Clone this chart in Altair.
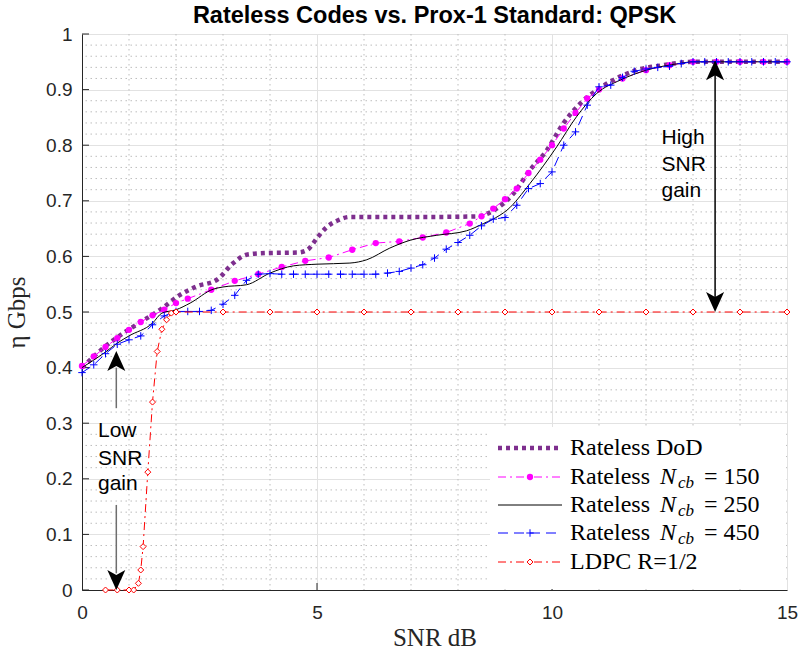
import altair as alt
import pandas as pd

# ---------------- text ----------------
TITLE = "Rateless Codes vs. Prox-1 Standard: QPSK"
X_LABEL = "SNR dB"
Y_LABEL = "η Gbps"

# ---------------- data ----------------
dod_x = [0, 0.45, 0.88, 1.27, 1.66, 2.09, 2.44, 2.87, 3.22, 3.5, 3.9, 4.6, 4.8, 5.0, 5.2, 5.45, 5.7,
         6.5, 7.5, 8.4, 8.82, 9.18, 9.53, 9.89, 10.24, 10.6, 10.95, 11.3, 11.8, 12.37, 13.0, 14.0, 15.0]
dod_y = [0.400, 0.435, 0.462, 0.483, 0.504, 0.531, 0.546, 0.558, 0.588, 0.603, 0.606, 0.607, 0.612,
         0.633, 0.652, 0.665, 0.671, 0.671, 0.671, 0.672, 0.686, 0.713, 0.755, 0.791, 0.839, 0.875,
         0.899, 0.917, 0.935, 0.944, 0.950, 0.950, 0.950]

n150_x = [0, 0.25, 0.5, 0.75, 1, 1.25, 1.5, 1.75, 2, 2.25, 2.75, 3.25, 3.75, 4.25, 4.75, 5.25, 5.75,
          6.25, 6.75, 7.25, 7.75, 8.25, 8.5, 8.75, 9, 9.25, 9.5, 9.75, 10, 10.25, 10.5, 10.75, 11,
          11.5, 12, 12.5, 13, 13.5, 14, 14.5, 15]
n150_y = [0.403, 0.420, 0.437, 0.453, 0.468, 0.482, 0.494, 0.504, 0.516, 0.524, 0.540, 0.556, 0.568,
          0.581, 0.592, 0.598, 0.612, 0.624, 0.627, 0.634, 0.643, 0.659, 0.672, 0.686, 0.703, 0.722,
          0.750, 0.774, 0.800, 0.830, 0.858, 0.884, 0.900, 0.920, 0.935, 0.944, 0.950, 0.950, 0.950,
          0.950, 0.950]

n250_x = [0, 0.5, 0.75, 1.0, 1.5, 1.7, 2.0, 2.3, 2.79, 3.0, 3.5, 4.0, 4.5, 5.0, 5.7, 6.06, 6.55, 6.98,
          7.55, 8.18, 8.54, 8.89, 9.04, 9.53, 10.1, 10.52, 10.95, 11.45, 12.01, 12.72, 13.0, 15.0]
n250_y = [0.400, 0.428, 0.444, 0.457, 0.480, 0.498, 0.504, 0.516, 0.541, 0.545, 0.549, 0.570, 0.583,
          0.586, 0.588, 0.594, 0.615, 0.629, 0.638, 0.646, 0.659, 0.674, 0.683, 0.731, 0.797, 0.851,
          0.893, 0.917, 0.935, 0.947, 0.950, 0.950]

n450_x = [0, 0.25, 0.5, 0.75, 1.0, 1.25, 1.5, 1.75, 2.0, 2.25, 2.5, 2.75, 3.0, 3.25, 3.5, 3.75, 4.0,
          4.25, 4.5, 4.75, 5.0, 5.25, 5.5, 5.75, 6.0, 6.25, 6.5, 6.75, 7.0, 7.25, 7.5, 7.75, 8.0,
          8.25, 8.5, 8.75, 9.0, 9.25, 9.5, 9.75, 10.0, 10.25, 10.5, 10.75, 11.0, 11.25, 11.5, 11.75,
          12.0, 12.25, 12.5, 12.75, 13.0, 13.25, 13.5, 13.75, 14.0, 14.25, 14.5, 14.75, 15.0]
n450_y = [0.391, 0.405, 0.425, 0.442, 0.450, 0.457, 0.477, 0.493, 0.501, 0.501, 0.501, 0.503, 0.514,
          0.530, 0.557, 0.568, 0.569, 0.568, 0.568, 0.568, 0.568, 0.568, 0.568, 0.568, 0.568, 0.568,
          0.570, 0.573, 0.579, 0.585, 0.597, 0.613, 0.625, 0.638, 0.655, 0.667, 0.670, 0.692, 0.722,
          0.731, 0.752, 0.800, 0.824, 0.872, 0.905, 0.908, 0.922, 0.933, 0.937, 0.940, 0.942, 0.947,
          0.950, 0.950, 0.950, 0.950, 0.950, 0.950, 0.950, 0.950, 0.950]

ldpc_x = [0.5, 0.75, 1.0, 1.1, 1.2, 1.25, 1.3, 1.4, 1.5, 1.6, 1.7, 1.8, 1.9, 2.0,
          3, 4, 5, 6, 7, 8, 9, 10, 11, 12, 13, 14, 15]
ldpc_y = [0.0, 0.0, 0.0, 0.0, 0.012, 0.036, 0.078, 0.212, 0.338, 0.429, 0.469, 0.486, 0.498, 0.5,
          0.5, 0.5, 0.5, 0.5, 0.5, 0.5, 0.5, 0.5, 0.5, 0.5, 0.5, 0.5, 0.5]

x_major = [0, 5, 10, 15]
y_major = [0, 0.1, 0.2, 0.3, 0.4, 0.5, 0.6, 0.7, 0.8, 0.9, 1]
x_minor = [1, 2, 3, 4, 6, 7, 8, 9, 11, 12, 13, 14]
y_minor = [round(0.02 * i, 2) for i in range(1, 50) if i % 5 != 0]

# annotations
ann_text = ["High", "SNR", "gain", "Low", "SNR", "gain"]
ann_x = [12.33, 12.33, 12.33, 0.34, 0.34, 0.34]
ann_y = [0.803, 0.754, 0.707, 0.276, 0.225, 0.180]

# arrows: x, shaft from y to y2, tip position and direction
arrow_x = [13.47, 0.73, 0.73]
arrow_y = [0.52, 0.327, 0.153]
arrow_y2 = [0.93, 0.40, 0.03]
arrow_color = ["#000000", "#6e6e6e", "#6e6e6e"]
head_x = [13.47, 13.47, 0.73, 0.73]
head_y = [0.953, 0.5, 0.43, 0.0]
head_dir = ["up", "down", "up", "down"]

# legend
legend_prefix = ["Rateless DoD", "Rateless", "Rateless", "Rateless", "LDPC R=1/2"]
legend_ncb = ["", "150", "250", "450", ""]

# ---------------- styling ----------------
W, H = 705, 556
AX = "#262626"
PURPLE, MAGENTA, BLUE, RED = "#7e2f8e", "#ff00ff", "#0000ff", "#ff0000"
PLUS = "M-1,0L1,0M0,-1L0,1"
UP = "M0,0L0.72,1.6L0,1.2L-0.72,1.6Z"
DOWN = "M0,0L0.72,-1.6L0,-1.2L-0.72,-1.6Z"
SERIF = "Liberation Serif"
SANS = "Liberation Sans"

xscale = alt.Scale(domain=[0, 15], nice=False, zero=False)
yscale = alt.Scale(domain=[0, 1], nice=False, zero=False)
xaxis = alt.Axis(values=x_major, grid=True, gridColor="#e2e2e2", gridWidth=1, ticks=False, tickSize=0,
                 domainColor=AX, domainWidth=1, labelFont=SANS, labelFontSize=19, labelColor=AX,
                 labelPadding=13, labelFlush=False, labelOverlap=False, titleFont=SERIF,
                 titleFontSize=25, titleFontWeight="normal", titleColor=AX, titlePadding=3)
yaxis = alt.Axis(values=y_major, format="~g", grid=True, gridColor="#e2e2e2", gridWidth=1, ticks=False,
                 tickSize=0, domainColor=AX, domainWidth=1, labelFont=SANS, labelFontSize=19,
                 labelColor=AX, labelPadding=10, labelFlush=False, labelOverlap=False, titleFont=SERIF,
                 titleFontSize=25, titleFontWeight="normal", titleColor=AX, titlePadding=16)


def X(f="x"):
    return alt.X(f"{f}:Q", scale=xscale, axis=xaxis, title=X_LABEL)


def Y(f="y"):
    return alt.Y(f"{f}:Q", scale=yscale, axis=yaxis, title=Y_LABEL)


layers = []

# minor grid (dotted)
layers.append(alt.Chart(pd.DataFrame({"v": x_minor})).mark_rule(
    color="#bdbdbd", strokeWidth=1, strokeDash=[1.5, 3.5]).encode(x=X("v")))
layers.append(alt.Chart(pd.DataFrame({"v": y_minor})).mark_rule(
    color="#bdbdbd", strokeWidth=1, strokeDash=[1.5, 3.5]).encode(y=Y("v")))

# inward ticks
layers.append(alt.Chart(pd.DataFrame({"v": y_major})).mark_rule(color=AX, strokeWidth=1).encode(
    y=Y("v"), x=alt.value(0), x2=alt.value(7)))
layers.append(alt.Chart(pd.DataFrame({"v": x_major[1:-1]})).mark_rule(color=AX, strokeWidth=1).encode(
    x=X("v"), y=alt.value(H), y2=alt.value(H - 7)))

# series
df_dod = pd.DataFrame({"x": dod_x, "y": dod_y})
df150 = pd.DataFrame({"x": n150_x, "y": n150_y})
df250 = pd.DataFrame({"x": n250_x, "y": n250_y})
df450 = pd.DataFrame({"x": n450_x, "y": n450_y})
dfl = pd.DataFrame({"x": ldpc_x, "y": ldpc_y})

layers.append(alt.Chart(df_dod).mark_line(color=PURPLE, strokeWidth=4.5, strokeDash=[4, 4],
                                          interpolate="monotone").encode(x=X(), y=Y()))
layers.append(alt.Chart(df150).mark_line(color=MAGENTA, strokeWidth=1, strokeDash=[8, 4, 2, 4]).encode(
    x=X(), y=Y()))
layers.append(alt.Chart(df150).mark_point(shape="circle", filled=True, size=40, color=MAGENTA,
                                          opacity=1).encode(x=X(), y=Y()))
layers.append(alt.Chart(df250).mark_line(color="#000000", strokeWidth=1, interpolate="monotone").encode(
    x=X(), y=Y()))
layers.append(alt.Chart(df450).mark_line(color=BLUE, strokeWidth=1, strokeDash=[10, 6]).encode(
    x=X(), y=Y()))
layers.append(alt.Chart(df450).mark_point(shape=PLUS, filled=False, size=56, color=BLUE, strokeWidth=1,
                                          opacity=1).encode(x=X(), y=Y()))
layers.append(alt.Chart(dfl).mark_line(color=RED, strokeWidth=1, strokeDash=[8, 4, 2, 4]).encode(
    x=X(), y=Y()))
layers.append(alt.Chart(dfl).mark_point(shape="diamond", filled=True, fill="white", size=36, stroke=RED,
                                        strokeWidth=1, opacity=1).encode(x=X(), y=Y()))

# arrows
df_arrow = pd.DataFrame({"x": arrow_x, "y": arrow_y, "y2": arrow_y2, "c": arrow_color})
layers.append(alt.Chart(df_arrow).mark_rule(strokeWidth=1.5).encode(
    x=X(), y=Y(), y2="y2:Q", color=alt.Color("c:N", scale=None)))
df_head = pd.DataFrame({"x": head_x, "y": head_y, "d": head_dir})
layers.append(alt.Chart(df_head).transform_filter(alt.datum.d == "up").mark_point(
    shape=UP, filled=True, color="#000000", size=625, opacity=1).encode(x=X(), y=Y()))
layers.append(alt.Chart(df_head).transform_filter(alt.datum.d == "down").mark_point(
    shape=DOWN, filled=True, color="#000000", size=625, opacity=1).encode(x=X(), y=Y()))

# annotation text
df_ann = pd.DataFrame({"x": ann_x, "y": ann_y, "t": ann_text})
layers.append(alt.Chart(df_ann).mark_text(font=SANS, fontSize=21, align="left", baseline="alphabetic",
                                          color="#000000").encode(x=X(), y=Y(), text="t:N"))

# ---------------- legend (drawn inside the plot) ----------------
LX0, LX1 = 408, 704
LY0, LY1 = 393, 555
rows_y = [414, 443, 471, 499, 528]
sx0, sx1, smid = 416, 480, 448
tx = 488

layers.append(alt.Chart(pd.DataFrame({"a": [0]})).mark_rect(fill="white").encode(
    x=alt.value(LX0), x2=alt.value(LX1), y=alt.value(LY0), y2=alt.value(LY1)))

styles = [
    dict(color=PURPLE, strokeWidth=4.5, strokeDash=[4, 4]),
    dict(color=MAGENTA, strokeWidth=1, strokeDash=[8, 4, 2, 4]),
    dict(color="#000000", strokeWidth=1),
    dict(color=BLUE, strokeWidth=1, strokeDash=[10, 6]),
    dict(color=RED, strokeWidth=1, strokeDash=[8, 4, 2, 4]),
]
markers = [
    None,
    dict(shape="circle", filled=True, size=40, color=MAGENTA, opacity=1),
    None,
    dict(shape=PLUS, filled=False, size=56, color=BLUE, strokeWidth=1, opacity=1),
    dict(shape="diamond", filled=True, fill="white", size=36, stroke=RED, strokeWidth=1, opacity=1),
]
one = pd.DataFrame({"a": [0]})
for i, ry in enumerate(rows_y):
    layers.append(alt.Chart(one).mark_rule(**styles[i]).encode(
        x=alt.value(sx0), x2=alt.value(sx1), y=alt.value(ry)))
    if markers[i]:
        layers.append(alt.Chart(one).mark_point(**markers[i]).encode(x=alt.value(smid), y=alt.value(ry)))
    layers.append(alt.Chart(pd.DataFrame({"t": [legend_prefix[i]]})).mark_text(
        font=SERIF, fontSize=24, align="left", baseline="middle", color="#000000").encode(
        x=alt.value(tx), y=alt.value(ry), text="t:N"))
    if legend_ncb[i]:
        layers.append(alt.Chart(pd.DataFrame({"t": ["N"]})).mark_text(
            font=SERIF, fontSize=24, fontStyle="italic", align="left", baseline="middle",
            color="#000000").encode(x=alt.value(578), y=alt.value(ry), text="t:N"))
        layers.append(alt.Chart(pd.DataFrame({"t": ["cb"]})).mark_text(
            font=SERIF, fontSize=17, fontStyle="italic", align="left", baseline="middle",
            color="#000000").encode(x=alt.value(596), y=alt.value(ry + 6), text="t:N"))
        layers.append(alt.Chart(pd.DataFrame({"t": ["= " + legend_ncb[i]]})).mark_text(
            font=SERIF, fontSize=24, align="left", baseline="middle", color="#000000").encode(
            x=alt.value(622), y=alt.value(ry), text="t:N"))

# chart title drawn as text above the plot area
layers.append(alt.Chart(pd.DataFrame({"t": [TITLE]})).mark_text(
    font=SANS, fontSize=23.5, fontWeight="bold", align="center", baseline="alphabetic",
    color="#000000").encode(x=alt.value(W / 2), y=alt.value(-11), text="t:N"))

chart = alt.layer(*layers).properties(
    width=W, height=H,
    autosize=alt.AutoSizeParams(type="none"),
    padding={"left": 82, "top": 34, "right": 15, "bottom": 65},
).configure_view(stroke="#c8c8c8", strokeWidth=1).configure(background="white")

chart.save("out.html", embed_options={"renderer": "svg", "actions": False})
